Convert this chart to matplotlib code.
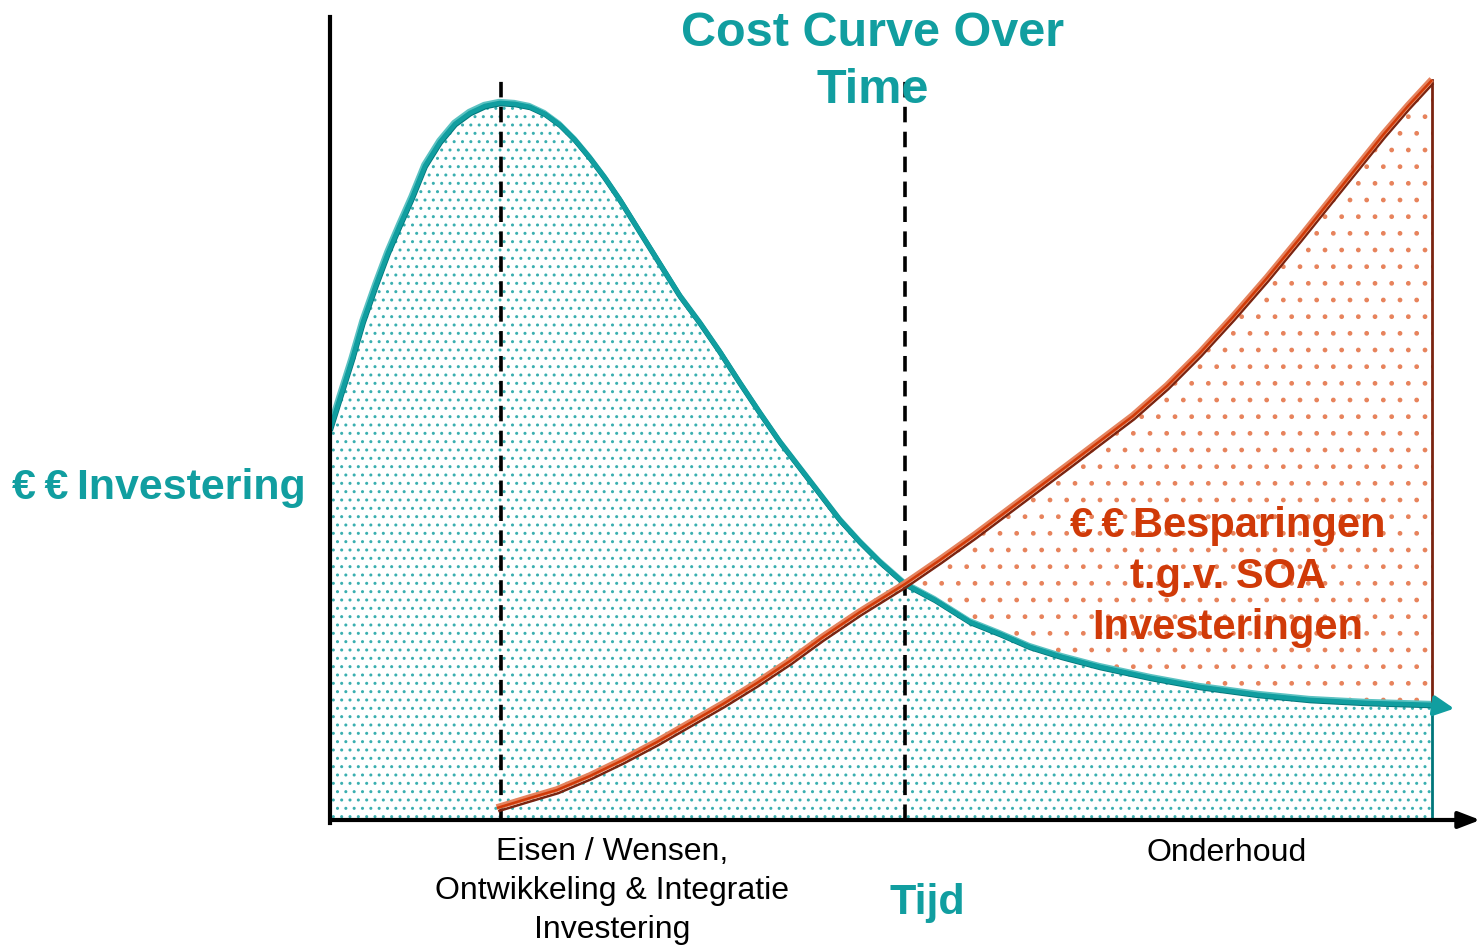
import numpy as np
import matplotlib
matplotlib.use('Agg')
import matplotlib.pyplot as plt
import matplotlib.patheffects as pe

plt.rcParams['font.family'] = ['Liberation Sans', 'DejaVu Sans']
plt.rcParams['hatch.linewidth'] = 1.0

# cost curves (arbitrary units: time 0-1150, cost 0-805)
invest_time = [0, 10, 22, 33, 46, 58, 70, 82, 95, 110, 125, 140, 155, 170, 185,
               200, 215, 230, 245, 260, 275, 290, 305, 320, 335, 350, 370, 390,
               410, 430, 450, 470, 490, 510, 530, 550, 575, 605, 640, 670, 700,
               732, 770, 821, 870, 929, 980, 1037, 1102]
invest_cost = [390, 422, 460, 498, 535, 567, 595, 622, 654, 678, 696, 707, 714,
               717, 716, 713, 706, 695, 680, 662, 642, 620, 596, 572, 548, 524,
               497, 468, 437, 407, 378, 352, 326, 300, 278, 258, 236, 220, 198,
               186, 173, 163, 153, 142, 133, 125, 120, 117, 115]

saving_time = [167, 200, 227, 260, 293, 327, 360, 393, 427, 460, 493, 530, 575,
               610, 645, 693, 737, 770, 803, 837, 870, 903, 937, 970, 1003, 1028,
               1053, 1078, 1102]
saving_cost = [12, 22, 30, 44, 60, 78, 97, 116, 137, 159, 183, 208, 236, 260,
               285, 321, 354, 379, 404, 434, 467, 503, 542, 582, 623, 654, 685,
               714, 740]

phase_marks = [171, 575]
cross_time = 575

teal = '#119EA0'
teal_light = '#5CC2C2'
teal_dark = '#00767A'
orange = '#D03A08'
salmon = '#E5835E'
brown = '#7A2410'


def main():
    fig = plt.figure(figsize=(14.83, 9.47), dpi=100)
    ax = fig.add_axes([330 / 1483, (947 - 820) / 947, 1150 / 1483, 805 / 947])
    ax.set_xlim(0, 1150)
    ax.set_ylim(0, 805)
    ax.axis('off')

    it = np.array(invest_time)
    ic = np.array(invest_cost)
    st = np.array(saving_time)
    sc = np.array(saving_cost)

    # teal dotted area under the investment curve
    ax.fill(np.r_[it, it[-1], it[0]], np.r_[ic, 0, 0],
            facecolor='white', edgecolor='#3AAFB0', hatch='..', linewidth=0, zorder=1)

    # orange dotted area between the two curves after they cross
    up = st >= cross_time
    lo = it >= cross_time
    ax.fill(np.r_[st[up], it[lo][::-1]], np.r_[sc[up], ic[lo][::-1]],
            facecolor='white', edgecolor='#E7835C', hatch='.', linewidth=0, zorder=2)

    # right edge of the areas
    ax.plot([it[-1], it[-1]], [0, ic[-1]], color=teal_dark, lw=2, zorder=3)
    ax.plot([st[-1], st[-1]], [ic[-1], sc[-1]], color=brown, lw=2, zorder=3)

    # phase separators
    for xm in phase_marks:
        ax.plot([xm, xm], [0, 745], color='black', lw=2.6,
                dashes=(4.3, 2.6), zorder=4)

    # investment curve with arrow
    ax.plot(it, ic, color=teal, lw=3.4, solid_capstyle='butt', zorder=5,
            path_effects=[pe.Stroke(linewidth=4, foreground=teal_light, offset=(-0.7, 1.0)),
                          pe.Stroke(linewidth=3.6, foreground=teal_dark, offset=(0.3, -0.6)),
                          pe.Normal()])
    ax.annotate('', xy=(1127, 111), xytext=(1098, 115),
                arrowprops=dict(arrowstyle='-|>,head_length=1.2,head_width=0.6',
                                color=teal, lw=3), zorder=5)

    # savings curve
    ax.plot(st, sc, color=orange, lw=1.8, solid_capstyle='butt', zorder=6,
            path_effects=[pe.Stroke(linewidth=1.8, foreground=brown, offset=(0.9, -2.3)),
                          pe.Stroke(linewidth=4.2, foreground=salmon, offset=(-0.3, 0.6)),
                          pe.Normal()])

    # axes drawn by hand
    ax.plot([0, 0], [-3, 803], color='black', lw=3, clip_on=False, zorder=7)
    ax.annotate('', xy=(1153, 0), xytext=(-1.5, 0),
                arrowprops=dict(arrowstyle='-|>,head_length=1.3,head_width=0.5',
                                color='black', lw=3), annotation_clip=False, zorder=7)

    # texts
    fig.text(873 / 1483, 1 - 62 / 947, 'Cost Curve Over\nTime', color=teal,
             fontsize=35, fontweight='bold', ha='center', va='center',
             linespacing=1.35)
    fig.text(12 / 1483, 1 - 488 / 947, '€\u2009€\u2009Investering', color=teal,
             fontsize=31, fontweight='bold', ha='left', va='center')
    fig.text(1228 / 1483, 1 - 577 / 947,
             '€\u2009€\u2009Besparingen\nt.g.v. SOA\nInvesteringen',
             color=orange, fontsize=30, fontweight='bold', ha='center', va='center',
             linespacing=1.36)
    fig.text(612 / 1483, 1 - 891 / 947,
             'Eisen / Wensen,\nOntwikkeling & Integratie\nInvestering',
             color='black', fontsize=23, ha='center', va='center', linespacing=1.38)
    fig.text(1227 / 1483, 1 - 853 / 947, 'Onderhoud', color='black',
             fontsize=23, ha='center', va='center')
    fig.text(927 / 1483, 1 - 903 / 947, 'Tijd', color=teal, fontsize=31,
             fontweight='bold', ha='center', va='center')

    fig.savefig('out.png', dpi=100)


if __name__ == '__main__':
    main()
